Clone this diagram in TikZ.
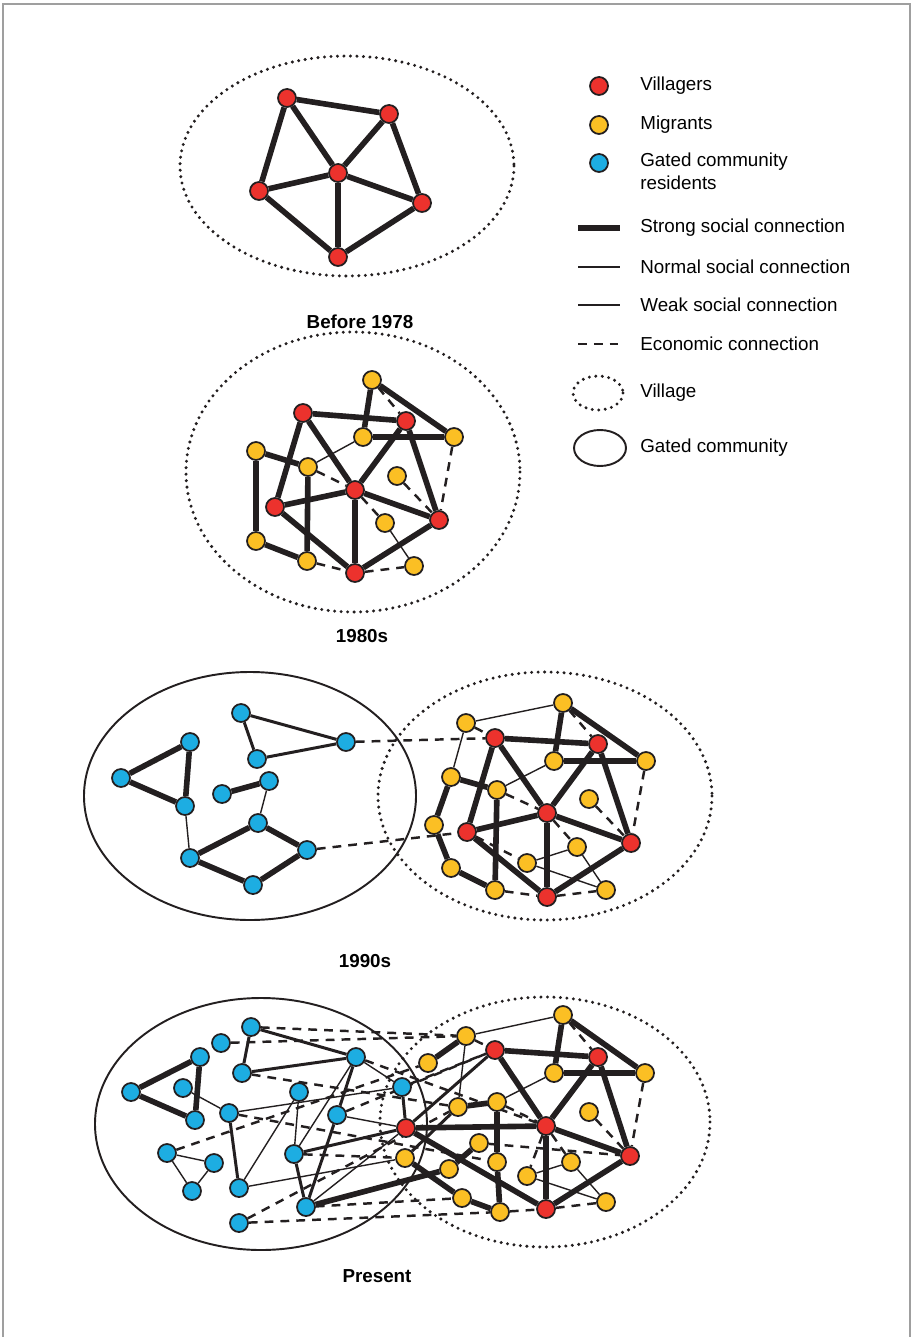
\documentclass[tikz,border=0pt]{standalone}
\usepackage{fontspec}
\setmainfont{Liberation Sans}
\newcommand{\legfont}{\fontsize{10.7}{13.1}\selectfont}
\definecolor{vilred}{RGB}{236,50,45}
\definecolor{migyellow}{RGB}{251,191,36}
\definecolor{gatblue}{RGB}{29,173,226}
\definecolor{inkdark}{RGB}{35,31,32}
\pgfdeclarelayer{ties}
\pgfsetlayers{ties,main}

\begin{document}
\begin{tikzpicture}[x=0.02cm, y=-0.02cm,
    person/.style={circle, draw=inkdark, line width=1pt, minimum size=0.36cm, inner sep=0pt},
    vil/.style={person, fill=vilred},
    mig/.style={person, fill=migyellow},
    gat/.style={person, fill=gatblue},
    strongtie/.style={inkdark, line width=3.2pt},
    normaltie/.style={inkdark, line width=1.7pt},
    weaktie/.style={inkdark, line width=0.8pt},
    econtie/.style={inkdark, line width=1.4pt, dash pattern=on 5pt off 4pt},
    villageline/.style={inkdark, line width=1.9pt, line cap=round, dash pattern=on 0pt off 3.7pt},
    gatedline/.style={inkdark, line width=1.1pt},
    caption/.style={font=\legfont\bfseries, inner sep=0pt},
    legtext/.style={font=\legfont, anchor=west, inner sep=0pt, align=left}]
\useasboundingbox (0,0) rectangle (913,1337);
\draw[gray!75, line width=0.9pt] (3,4) rectangle (910,1380);

% --- LEGEND ---
\node[vil] (kv) at (599,86) {};
\node[legtext] (kvt) at (640,86) {Villagers};
\node[mig] (km) at (599,125) {};
\node[legtext] (kmt) at (640,125) {Migrants};
\node[gat] (kg) at (599,163) {};
\node[legtext, anchor=north west] (kgt) at (640,153) {Gated community\\residents};
\draw[strongtie] (578,228) -- (620,228);
\node[legtext] (kst) at (640,228) {Strong social connection};
\draw[normaltie] (578,267) -- (620,267);
\node[legtext] (knt) at (640,267) {Normal social connection};
\draw[weaktie] (578,305) -- (620,305);
\node[legtext] (kwt) at (640,305) {Weak social connection};
\draw[econtie] (578,344) -- (620,344);
\node[legtext] (ket) at (640,344) {Economic connection};
\draw[villageline] (598,393) ellipse [x radius=25, y radius=17];
\node[legtext] (kvl) at (640,393) {Village};
\draw[gatedline] (600,448) ellipse [x radius=26, y radius=18];
\node[legtext] (kgc) at (640,448) {Gated community};

% --- BEFORE 1978 ---
\node[vil] (a1) at (287,98) {};
\node[vil] (a2) at (389,114) {};
\node[vil] (a3) at (338,173) {};
\node[vil] (a4) at (259,191) {};
\node[vil] (a5) at (422,203) {};
\node[vil] (a6) at (338,257) {};
\begin{pgfonlayer}{ties}
\draw[villageline] (347,166) ellipse [x radius=167, y radius=110];
\foreach \p/\q in {a1/a2,a1/a4,a1/a3,a2/a3,a2/a5,a4/a3,a4/a6,a3/a6,a3/a5,a5/a6}
    \draw[strongtie] (\p) -- (\q);
\end{pgfonlayer}
\node[caption] (t1) at (360,322) {Before 1978};

% --- 1980s ---
\node[mig] (b1) at (372,380) {};
\node[vil] (b2) at (303,413) {};
\node[vil] (b3) at (406,421) {};
\node[mig] (b4) at (363,437) {};
\node[mig] (b5) at (454,437) {};
\node[mig] (b6) at (256,451) {};
\node[mig] (b7) at (308,467) {};
\node[mig] (b8) at (397,476) {};
\node[vil] (b9) at (355,490) {};
\node[vil] (b10) at (275,507) {};
\node[vil] (b11) at (439,520) {};
\node[mig] (b12) at (385,523) {};
\node[mig] (b13) at (256,541) {};
\node[mig] (b14) at (307,561) {};
\node[vil] (b15) at (355,573) {};
\node[mig] (b16) at (414,566) {};
\begin{pgfonlayer}{ties}
\draw[villageline] (353,472) ellipse [x radius=167, y radius=140];
\foreach \p/\q in {b1/b4,b1/b5,b2/b3,b2/b10,b2/b9,b4/b5,b3/b9,b3/b11,b6/b7,b6/b13,b7/b14,
                   b9/b10,b9/b11,b9/b15,b10/b15,b11/b15,b13/b14}
    \draw[strongtie] (\p) -- (\q);
\foreach \p/\q in {b4/b7,b12/b16}
    \draw[weaktie] (\p) -- (\q);
\foreach \p/\q in {b1/b3,b5/b11,b7/b9,b9/b12,b8/b11,b14/b15,b15/b16}
    \draw[econtie] (\p) -- (\q);
\end{pgfonlayer}
\node[caption] (t2) at (362,636) {1980s};

% --- 1990s ---
% village
\node[mig] (c1) at (466,723) {};
\node[mig] (c2) at (563,703) {};
\node[vil] (c3) at (495,738) {};
\node[vil] (c4) at (598,744) {};
\node[mig] (c5) at (554,761) {};
\node[mig] (c6) at (646,761) {};
\node[mig] (c7) at (451,777) {};
\node[mig] (c8) at (497,790) {};
\node[mig] (c9) at (589,799) {};
\node[vil] (c10) at (547,813) {};
\node[mig] (c11) at (434,825) {};
\node[vil] (c12) at (467,832) {};
\node[vil] (c13) at (631,843) {};
\node[mig] (c14) at (577,847) {};
\node[mig] (c15) at (527,863) {};
\node[mig] (c16) at (451,868) {};
\node[mig] (c17) at (495,890) {};
\node[vil] (c18) at (547,897) {};
\node[mig] (c19) at (606,890) {};
% gated community
\node[gat] (g1) at (241,713) {};
\node[gat] (g2) at (190,742) {};
\node[gat] (g3) at (346,742) {};
\node[gat] (g4) at (257,759) {};
\node[gat] (g5) at (121,778) {};
\node[gat] (g6) at (269,781) {};
\node[gat] (g7) at (222,794) {};
\node[gat] (g8) at (185,806) {};
\node[gat] (g9) at (258,823) {};
\node[gat] (g10) at (307,850) {};
\node[gat] (g11) at (190,858) {};
\node[gat] (g12) at (253,885) {};
\begin{pgfonlayer}{ties}
\draw[gatedline] (250,796) ellipse [x radius=166, y radius=124];
\draw[villageline] (545,796) ellipse [x radius=167, y radius=124];
\foreach \p/\q in {c2/c5,c2/c6,c3/c4,c3/c12,c3/c10,c5/c6,c4/c10,c4/c13,c7/c8,c7/c11,c8/c17,
                   c10/c12,c10/c13,c10/c18,c12/c18,c13/c18,c11/c16,c16/c17,
                   g2/g5,g2/g8,g5/g8,g7/g6,g11/g9,g9/g10,g11/g12,g12/g10}
    \draw[strongtie] (\p) -- (\q);
\foreach \p/\q in {g1/g3,g1/g4,g4/g3}
    \draw[normaltie] (\p) -- (\q);
\foreach \p/\q in {c1/c2,c1/c7,c5/c8,c14/c15,c14/c19,c15/c19,g6/g9,g8/g11}
    \draw[weaktie] (\p) -- (\q);
\foreach \p/\q in {c1/c3,c2/c4,c6/c13,c8/c10,c9/c13,c10/c14,c12/c15,c17/c18,c18/c19,g3/c3,g10/c12}
    \draw[econtie] (\p) -- (\q);
\end{pgfonlayer}
\node[caption] (t3) at (365,961) {1990s};

% --- PRESENT ---
% village
\node[mig] (d1) at (563,1015) {};
\node[mig] (d2) at (466,1036) {};
\node[vil] (d3) at (495,1050) {};
\node[vil] (d4) at (598,1057) {};
\node[mig] (d5) at (428,1063) {};
\node[mig] (d6) at (554,1073) {};
\node[mig] (d7) at (645,1073) {};
\node[mig] (d8) at (458,1107) {};
\node[mig] (d9) at (497,1102) {};
\node[mig] (d10) at (589,1112) {};
\node[vil] (d11) at (406,1128) {};
\node[vil] (d12) at (546,1126) {};
\node[mig] (d13) at (479,1143) {};
\node[vil] (d14) at (630,1156) {};
\node[mig] (d15) at (405,1158) {};
\node[mig] (d16) at (497,1162) {};
\node[mig] (d17) at (571,1162) {};
\node[mig] (d18) at (449,1169) {};
\node[mig] (d19) at (527,1176) {};
\node[mig] (d20) at (462,1198) {};
\node[mig] (d21) at (606,1202) {};
\node[mig] (d22) at (500,1212) {};
\node[vil] (d23) at (546,1209) {};
% gated community
\node[gat] (h1) at (251,1027) {};
\node[gat] (h2) at (221,1043) {};
\node[gat] (h3) at (200,1057) {};
\node[gat] (h4) at (356,1057) {};
\node[gat] (h5) at (242,1073) {};
\node[gat] (h6) at (131,1092) {};
\node[gat] (h7) at (183,1088) {};
\node[gat] (h8) at (299,1092) {};
\node[gat] (h9) at (402,1087) {};
\node[gat] (h10) at (229,1113) {};
\node[gat] (h11) at (337,1115) {};
\node[gat] (h12) at (195,1120) {};
\node[gat] (h13) at (167,1153) {};
\node[gat] (h14) at (294,1154) {};
\node[gat] (h15) at (214,1163) {};
\node[gat] (h16) at (192,1191) {};
\node[gat] (h17) at (239,1188) {};
\node[gat] (h18) at (306,1207) {};
\node[gat] (h19) at (239,1223) {};
\begin{pgfonlayer}{ties}
\draw[gatedline] (261,1124) ellipse [x radius=166, y radius=126];
\draw[villageline] (545,1122) ellipse [x radius=165, y radius=125];
\foreach \p/\q in {d1/d6,d1/d7,d3/d4,d3/d12,d4/d12,d4/d14,d6/d7,d2/d5,d8/d9,d9/d16,d16/d22,
                   d11/d12,d11/d23,d12/d14,d12/d23,d14/d23,d15/d20,d20/d22,d18/d13,h18/d18,
                   h3/h6,h6/h12,h3/h12}
    \draw[strongtie] (\p) -- (\q);
\foreach \p/\q in {d3/d11,h9/d11,h14/d11,h1/h5,h1/h4,h5/h4,h10/h17,h4/h11,h11/h18,h14/h18,d8/d15}
    \draw[normaltie] (\p) -- (\q);
\foreach \p/\q in {d2/d1,d2/d8,d6/d9,d19/d17,d19/d21,d17/d21,h7/h10,h13/h15,h13/h16,h15/h16,
                   h8/h14,h8/h17,h4/h14,h4/h9,h10/h9,h11/d11,h17/d15,h18/d11}
    \draw[weaktie] (\p) -- (\q);
\foreach \p/\q in {d2/d3,d1/d4,d7/d14,d9/d12,d10/d14,d12/d17,d12/d19,d13/d14,d22/d23,d23/d21,
                   h1/d2,h2/d2,h4/d12,h5/d8,h10/d16,h13/d5,h14/d15,h18/d20,h19/d22,h19/d8,
                   h11/d3,h9/d3}
    \draw[econtie] (\p) -- (\q);
\end{pgfonlayer}
\node[caption] (t4) at (377,1276) {Present};
\end{tikzpicture}
\end{document}
